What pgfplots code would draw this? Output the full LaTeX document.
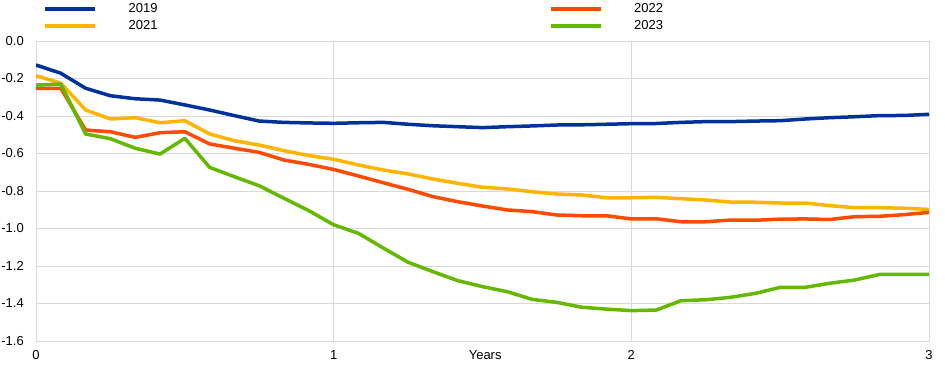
\documentclass[border=0pt]{standalone}
\usepackage{pgfplots}
\pgfplotsset{compat=1.18}
\usepackage{fontspec}
\setmainfont{Liberation Sans}
\usetikzlibrary{calc}
\definecolor{ecbblue}{RGB}{0,50,153}
\definecolor{ecbyellow}{RGB}{255,180,0}
\definecolor{ecborange}{RGB}{255,75,0}
\definecolor{ecbgreen}{RGB}{101,184,0}
\definecolor{gridgray}{RGB}{217,217,217}
\begin{document}
\begin{tikzpicture}
\begin{axis}[
  scale only axis,
  width=893pt, height=300pt,
  xmin=0, xmax=3, ymin=-1.6, ymax=0,
  xtick={0,1,2,3},
  ytick={-1.6,-1.4,-1.2,-1.0,-0.8,-0.6,-0.4,-0.2,0},
  grid=major,
  grid style={gridgray, line width=0.8pt},
  axis line style={gridgray, line width=0.8pt},
  major tick length=0pt,
  tick style={draw=none},
  font=\fontsize{13}{15}\selectfont,
  /pgf/number format/assume math mode=true,
  yticklabel style={/pgf/number format/.cd, fixed, fixed zerofill, precision=1, /tikz/.cd, inner sep=0pt, xshift=-12pt},
  xticklabel style={inner sep=0pt, yshift=-9pt},
  xlabel={Years},
  xlabel style={at={(axis description cs:0.503,0)}, anchor=north, inner sep=0pt, yshift=-9pt},
  legend columns=2,
  legend style={at={(axis description cs:0,1)}, anchor=south west, xshift=7pt, yshift=9.6pt,
    draw=none, fill=none, inner sep=0pt, row sep=6.5pt,
    font=\fontsize{13}{15}\selectfont,
    nodes={inner sep=0pt, anchor=west}},
  /tikz/every odd column/.append style={column sep=31pt},
  /tikz/every even column/.append style={column sep=391pt},
  legend cell align=left,
  legend image code/.code={\draw[#1, line width=4.5pt] (0pt,0pt) -- (50pt,0pt);},
  every axis plot/.append style={line width=3.5pt, mark=none, line join=round},
]
\coordinate (sw) at (rel axis cs:0,0);
\coordinate (ne) at (rel axis cs:1,1);
\addplot[ecbblue, forget plot] table[x expr=\thisrow{m}/12, y=v] {
m v
0 -0.128
1 -0.172
2 -0.252
3 -0.292
4 -0.308
5 -0.315
6 -0.341
7 -0.368
8 -0.398
9 -0.427
10 -0.434
11 -0.437
12 -0.439
13 -0.436
14 -0.434
15 -0.444
16 -0.452
17 -0.457
18 -0.462
19 -0.457
20 -0.453
21 -0.448
22 -0.447
23 -0.444
24 -0.441
25 -0.440
26 -0.434
27 -0.430
28 -0.430
29 -0.427
30 -0.425
31 -0.416
32 -0.409
33 -0.404
34 -0.398
35 -0.397
36 -0.391
};
\addplot[ecbyellow, forget plot] table[x expr=\thisrow{m}/12, y=v] {
m v
0 -0.185
1 -0.225
2 -0.368
3 -0.416
4 -0.409
5 -0.436
6 -0.425
7 -0.496
8 -0.532
9 -0.555
10 -0.585
11 -0.611
12 -0.631
13 -0.661
14 -0.688
15 -0.709
16 -0.736
17 -0.759
18 -0.780
19 -0.789
20 -0.804
21 -0.816
22 -0.821
23 -0.836
24 -0.836
25 -0.834
26 -0.841
27 -0.848
28 -0.859
29 -0.860
30 -0.864
31 -0.864
32 -0.878
33 -0.889
34 -0.889
35 -0.892
36 -0.898
};
\addplot[ecborange, forget plot] table[x expr=\thisrow{m}/12, y=v] {
m v
0 -0.252
1 -0.252
2 -0.475
3 -0.484
4 -0.514
5 -0.489
6 -0.484
7 -0.549
8 -0.572
9 -0.594
10 -0.635
11 -0.658
12 -0.685
13 -0.720
14 -0.756
15 -0.791
16 -0.830
17 -0.857
18 -0.880
19 -0.901
20 -0.910
21 -0.928
22 -0.932
23 -0.932
24 -0.949
25 -0.948
26 -0.964
27 -0.964
28 -0.955
29 -0.956
30 -0.950
31 -0.949
32 -0.952
33 -0.937
34 -0.935
35 -0.926
36 -0.914
};
\addplot[ecbgreen, forget plot] table[x expr=\thisrow{m}/12, y=v] {
m v
0 -0.235
1 -0.230
2 -0.496
3 -0.521
4 -0.572
5 -0.603
6 -0.519
7 -0.674
8 -0.724
9 -0.772
10 -0.839
11 -0.905
12 -0.980
13 -1.026
14 -1.104
15 -1.180
16 -1.230
17 -1.278
18 -1.310
19 -1.337
20 -1.378
21 -1.394
22 -1.420
23 -1.430
24 -1.438
25 -1.435
26 -1.385
27 -1.380
28 -1.367
29 -1.346
30 -1.314
31 -1.314
32 -1.292
33 -1.275
34 -1.245
35 -1.245
36 -1.245
};
\addlegendimage{ecbblue}
\addlegendentry{2019}
\addlegendimage{ecborange}
\addlegendentry{2022}
\addlegendimage{ecbyellow}
\addlegendentry{2021}
\addlegendimage{ecbgreen}
\addlegendentry{2023}
\end{axis}
\pgfresetboundingbox
\path ($(sw)+(-36pt,-27pt)$) rectangle ($(ne)+(16pt,41pt)$);
\end{tikzpicture}
\end{document}
